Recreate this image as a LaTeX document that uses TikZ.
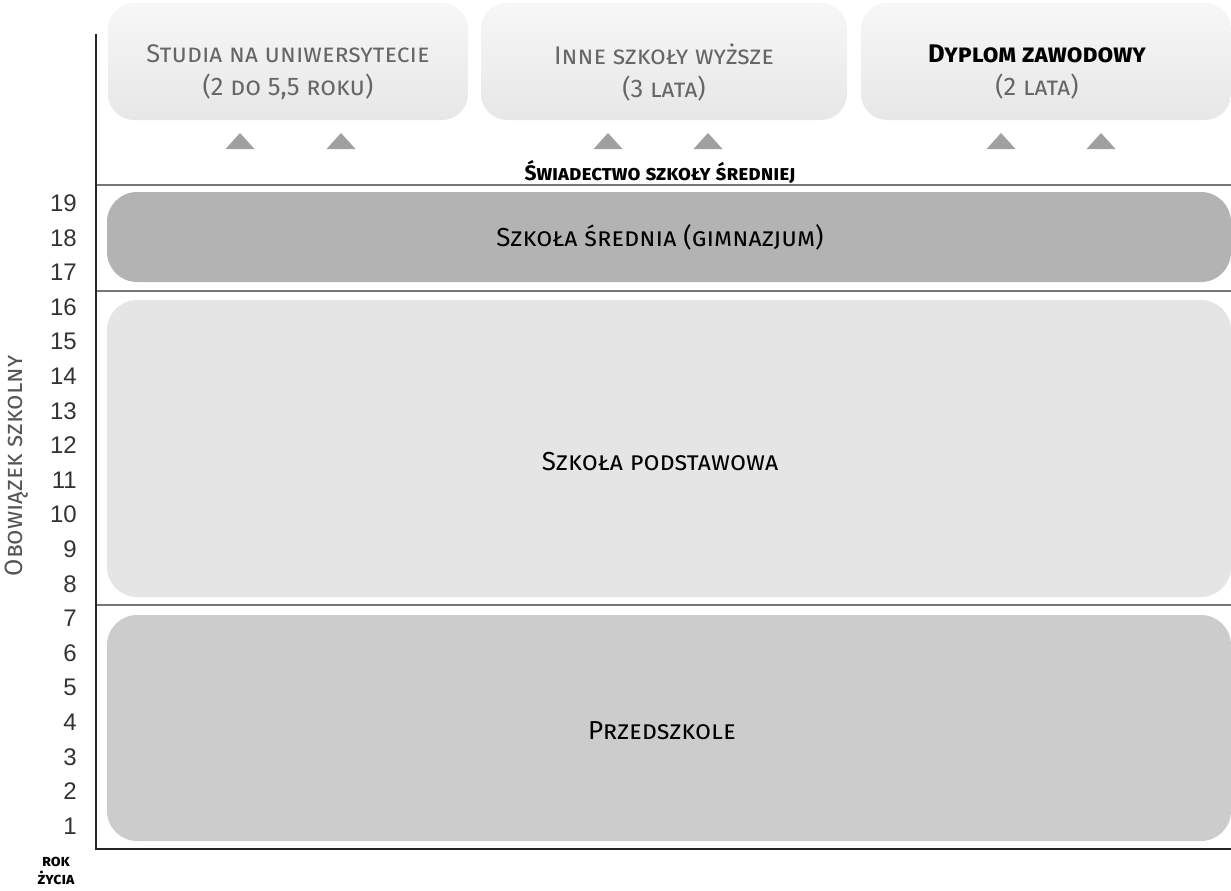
\documentclass[tikz,border=0pt]{standalone}
\usepackage{fontspec}
\setmainfont{Fira Sans}
\newfontfamily\numfont{Liberation Sans}
\usetikzlibrary{shapes.geometric}
\definecolor{topgray}{HTML}{666666}
\definecolor{sepgray}{HTML}{777777}
\definecolor{trigray}{HTML}{A0A0A0}
\definecolor{midgray}{HTML}{B3B3B3}
\definecolor{lightgray}{HTML}{E5E5E5}
\definecolor{pregray}{HTML}{CCCCCC}
\definecolor{gradtop}{HTML}{F7F7F7}
\definecolor{gradbot}{HTML}{E7E7E7}
\definecolor{axisgray}{HTML}{555555}
\tikzset{
  topbox/.style={rectangle, rounded corners=26pt, top color=gradtop, bottom color=gradbot,
    draw=none, inner sep=0pt, minimum height=117pt},
  toptext/.style={inner sep=0pt, align=center, text=topgray,
    font=\fontsize{25.5}{33}\selectfont\scshape},
  levelbox/.style={rectangle, rounded corners=30pt, draw=none, inner sep=0pt, minimum width=1124pt},
  leveltext/.style={font=\fontsize{26}{30}\selectfont\scshape, text=black, inner sep=0pt},
  sepline/.style={draw=sepgray, line width=1.5pt},
  axisline/.style={draw=black!85, line width=1.3pt},
  trifill/.style={fill=trigray},
  agelabel/.style={anchor=east, font=\numfont\fontsize{24}{26}\selectfont, text=black!80, inner sep=0pt},
}
\newcommand\uptri[1]{\fill[trifill] (#1) ++(-14.5,8) -- ++(29,0) -- ++(-14.5,-16) -- cycle;}
\begin{document}
\begin{tikzpicture}[x=1pt,y=-1pt]
\useasboundingbox (0,0) rectangle (1231,891);
% top boxes
\node[topbox, minimum width=360pt] (uni) at (288,61.5) {};
\node[topbox, minimum width=366pt] (inne) at (664,61.5) {};
\node[topbox, minimum width=370pt] (dyp) at (1046,61.5) {};
\node[toptext] (unit) at ([yshift=-11pt]uni.center) {Studia na uniwersytecie\\(2 do 5,5 roku)};
\node[toptext] (innet) at ([yshift=-11pt]inne.center) {Inne szkoły wyższe\\(3 lata)};
\node[toptext] (dypt) at ([yshift=-11pt,xshift=-9pt]dyp.center) {\textcolor{black}{\bfseries Dyplom zawodowy}\\(2 lata)};
% triangles
\uptri{240,141}
\uptri{341,141}
\uptri{608,141}
\uptri{708,141}
\uptri{1001,141}
\uptri{1101,141}
% certificate label
\node[font=\fontsize{21}{23}\selectfont\bfseries\scshape, inner sep=0pt] (swiad) at (660,172)
  {Świadectwo szkoły średniej};
% level boxes
\node[levelbox, fill=midgray, minimum height=90pt] (sred) at (669,237) {};
\node[levelbox, fill=lightgray, minimum height=297pt] (podst) at (669,448.5) {};
\node[levelbox, fill=pregray, minimum height=226pt] (przed) at (669,728) {};
\node[leveltext] (tsred) at (660,237) {Szkoła średnia (gimnazjum)};
\node[leveltext] (tpodst) at (660,462) {Szkoła podstawowa};
\node[leveltext] (tprzed) at (662,731) {Przedszkole};
% separators
\coordinate (s1l) at (96,185); \coordinate (s1r) at (1231,185);
\coordinate (s2l) at (96,291); \coordinate (s2r) at (1231,291);
\coordinate (s3l) at (96,605); \coordinate (s3r) at (1231,605);
\draw[sepline] (s1l) -- (s1r);
\draw[sepline] (s2l) -- (s2r);
\draw[sepline] (s3l) -- (s3r);
% axes
\coordinate (atop) at (96,34);
\coordinate (aorig) at (96,849);
\coordinate (aright) at (1231,849);
\draw[axisline] (atop) -- (aorig) -- (aright);
% age labels
\foreach \a in {1,...,19} {
  \node[agelabel] (age\a) at (77,{826-34.6*(\a-1)}) {\a};
}
\node[rotate=90, font=\fontsize{25}{28}\selectfont\scshape, text=axisgray, inner sep=0pt] (oblig) at (17,466) {Obowiązek szkolny};
\node[align=center, font=\fontsize{16}{18}\selectfont\bfseries\scshape, inner sep=0pt] (rok) at (56,871) {rok\\życia};
\end{tikzpicture}
\end{document}
